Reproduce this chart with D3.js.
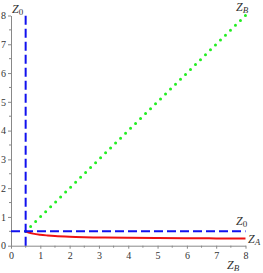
<!DOCTYPE html>
<svg id="chart" width="263" height="273"></svg>
<style>
  body { margin: 0; background: #fff; }
  text { font-family: "Liberation Serif", serif; }
</style>
<script src="https://d3js.org/d3.v7.min.js"></script>
<script>
  // values
  var ticks = [0, 1, 2, 3, 4, 5, 6, 7, 8]
  var minorTicks = [0.5, 1.5, 2.5, 3.5, 4.5, 5.5, 6.5, 7.5]
  var z0 = 0.5
  var zbRange = [0.5, 8]
  var zb = [0.5, 0.6, 0.75, 1, 1.25, 1.5, 2, 2.5, 3, 4, 5, 6, 7, 8]
  var za = [0.5, 0.46, 0.42, 0.38, 0.355, 0.335, 0.31, 0.295, 0.285, 0.272, 0.264, 0.258, 0.254, 0.25]

  var svg = d3.select("#chart")
  var x = d3.scaleLinear().domain([0, 8]).range([11, 245.5])
  var y = d3.scaleLinear().domain([0, 8]).range([245.7, 15.5])
  var axisColor = "#888"

  // axes
  var gx = svg.append("g").attr("transform", "translate(0," + y(0) + ")")
  gx.call(d3.axisBottom(x).tickValues(ticks).tickSize(3).tickSizeOuter(0).tickPadding(3))
  gx.selectAll(".minor").data(minorTicks).enter().append("line")
    .attr("x1", d => x(d)).attr("x2", d => x(d)).attr("y1", 0).attr("y2", 2)
    .attr("stroke", axisColor)
  var gy = svg.append("g").attr("transform", "translate(" + x(0) + ",0)")
  gy.call(d3.axisLeft(y).tickValues(ticks).tickSize(3).tickSizeOuter(0).tickPadding(2))
  gy.selectAll(".minor").data(minorTicks).enter().append("line")
    .attr("y1", d => y(d)).attr("y2", d => y(d)).attr("x1", 0).attr("x2", -2)
    .attr("stroke", axisColor)
  svg.selectAll(".domain").attr("stroke", axisColor)
  svg.selectAll(".tick line").attr("stroke", axisColor)
  svg.selectAll(".tick text").attr("font-size", 10).attr("fill", "#333")

  // green dotted Z_B = Z_B
  svg.append("line")
    .attr("x1", x(zbRange[0])).attr("y1", y(zbRange[0]))
    .attr("x2", x(zbRange[1])).attr("y2", y(zbRange[1]))
    .attr("stroke", "#22ee22").attr("stroke-width", 3)
    .attr("stroke-linecap", "round").attr("stroke-dasharray", "0 7")

  // red Z_A curve
  var line = d3.line().x((d, i) => x(zb[i])).y(d => y(d)).curve(d3.curveMonotoneX)
  svg.append("path").datum(za).attr("d", line)
    .attr("fill", "none").attr("stroke", "#ee1111").attr("stroke-width", 2)

  // blue dashed Z_0 lines
  svg.append("line")
    .attr("x1", x(0)).attr("x2", x(8)).attr("y1", y(z0)).attr("y2", y(z0))
    .attr("stroke", "#1111ee").attr("stroke-width", 2).attr("stroke-dasharray", "9 4")
  svg.append("line")
    .attr("x1", x(z0)).attr("x2", x(z0)).attr("y1", y(0)).attr("y2", y(8))
    .attr("stroke", "#1111ee").attr("stroke-width", 2).attr("stroke-dasharray", "9 4")

  // labels
  function zlabel(px, py, sub) {
    var t = svg.append("text").attr("x", px).attr("y", py)
      .attr("font-size", 12).attr("fill", "#333")
    t.append("tspan").attr("font-style", "italic").text("Z")
    t.append("tspan").attr("font-size", 9).attr("dy", 2).attr("font-style", sub === "0" ? "normal" : "italic").text(sub)
  }
  zlabel(12, 13, "0")
  zlabel(236, 10.5, "B")
  zlabel(236, 225, "0")
  zlabel(248, 243, "A")
  zlabel(227, 269, "B")
</script>
